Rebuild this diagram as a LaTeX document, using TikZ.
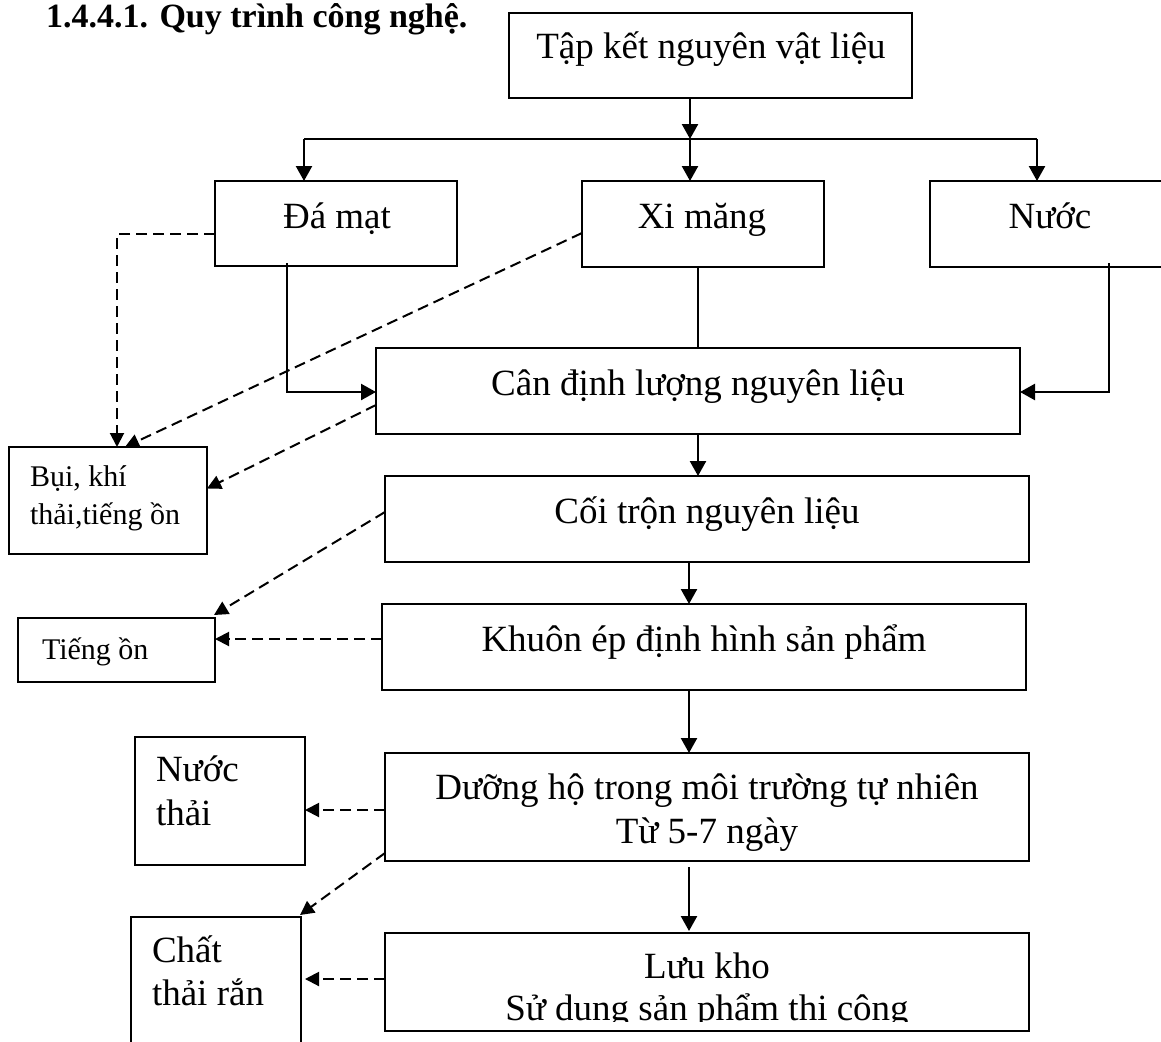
\documentclass[tikz,border=0pt]{standalone}
\usepackage{fontspec}
\setmainfont{Liberation Serif}
\usetikzlibrary{arrows.meta,calc}
\begin{document}
\begin{tikzpicture}[x=1pt,y=-1pt,
  box/.style={draw, line width=2pt, inner sep=0pt, outer sep=0pt},
  big/.style={inner sep=0pt, outer sep=0pt, anchor=base, font=\fontsize{37}{43}\selectfont},
  bigl/.style={inner sep=0pt, outer sep=0pt, anchor=base west, font=\fontsize{37}{43}\selectfont},
  small/.style={inner sep=0pt, outer sep=0pt, anchor=base west, font=\fontsize{30}{38}\selectfont},
  flow/.style={line width=2.4pt, -{Triangle[length=15pt,width=16pt]}},
  plain/.style={line width=2.4pt},
  waste/.style={line width=2pt, dash pattern=on 11pt off 6pt, -{Triangle[length=14pt,width=14pt]}}
]
\useasboundingbox (0,0) rectangle (1161,1041);
\clip (0,0) rectangle (1161,1041);
\fill[white] (0,0) rectangle (1161,1041);

% title
\node[inner sep=0pt, anchor=base west, font=\fontsize{34}{38}\selectfont\bfseries] (title) at (46,28) {1.4.4.1. Quy trình công nghệ.};

% boxes
\node[box, minimum width=403pt, minimum height=85pt] (tap) at (710.5,55.5) {};
\node[big] (tapT) at (711,59) {Tập kết nguyên vật liệu};

\node[box, minimum width=242pt, minimum height=85pt] (dam) at (336,223.5) {};
\node[big] (damT) at (337,228) {Đá mạt};

\node[box, minimum width=242pt, minimum height=86pt] (xim) at (703,224) {};
\node[big] (ximT) at (702,228) {Xi măng};

\node[box, minimum width=270pt, minimum height=86pt] (nuoc) at (1065,224) {};
\node[big] (nuocT) at (1050,228) {Nước};

\node[box, minimum width=644pt, minimum height=86pt] (can) at (698,391) {};
\node[big] (canT) at (698,395) {Cân định lượng nguyên liệu};

\node[box, minimum width=644pt, minimum height=86pt] (coi) at (707,519) {};
\node[big] (coiT) at (707,523) {Cối trộn nguyên liệu};

\node[box, minimum width=644pt, minimum height=86pt] (khuon) at (704,647) {};
\node[big] (khuonT) at (704,651) {Khuôn ép định hình sản phẩm};

\node[box, minimum width=644pt, minimum height=108pt] (duong) at (707,807) {};
\node[big] (duongT1) at (707,799) {Dưỡng hộ trong môi trường tự nhiên};
\node[big] (duongT2) at (707,843) {Từ 5-7 ngày};

\node[box, minimum width=644pt, minimum height=98pt] (luu) at (707,982) {};
\node[big] (luuT1) at (707,978) {Lưu kho};
\begin{scope}
  \clip (390,990) rectangle (1025,1021);
  \node[big] (luuT2) at (707,1020) {Sử dụng sản phẩm thi công};
\end{scope}

\node[box, minimum width=198pt, minimum height=107pt] (bui) at (108,500.5) {};
\node[small] (buiT1) at (30,486) {Bụi, khí};
\node[small] (buiT2) at (30,524) {thải,tiếng ồn};

\node[box, minimum width=197pt, minimum height=64pt] (tieng) at (116.5,650) {};
\node[small] (tiengT) at (42,659) {Tiếng ồn};

\node[box, minimum width=170pt, minimum height=128pt] (nthai) at (220,801) {};
\node[bigl] (nthaiT1) at (156,781) {Nước};
\node[bigl] (nthaiT2) at (156,825) {thải};

\node[box, minimum width=170pt, minimum height=143pt] (chat) at (216,988.5) {};
\node[bigl] (chatT1) at (152,962) {Chất};
\node[bigl] (chatT2) at (152,1005) {thải rắn};

% coordinates for connectors
\coordinate (jc) at (690,139);
\coordinate (jl) at (304,139);
\coordinate (jr) at (1037,139);
\coordinate (dl) at (287,392);
\coordinate (xc) at (698,300);
\coordinate (nr) at (1109,392);
\coordinate (c1) at (698,450);
\coordinate (c2) at (689,600);
\coordinate (ba) at (117,234);
\coordinate (e1) at (300,639);
\coordinate (f1) at (340,810);
\coordinate (h1) at (340,979);

% solid flow
\draw[flow] (tap.south -| jc) -- (jc);
\draw[plain] (jl) -- (jr);
\draw[flow] (jl) -- (jl |- dam.north);
\draw[flow] (jc) -- (jc |- xim.north);
\draw[flow] (jr) -- (jr |- nuoc.north);
\draw[flow] ($(dl |- dam.south)+(0,-3)$) -- (dl) -- (dl -| can.west);
\draw[plain] (xc |- xim.south) -- (xc |- can.north);
\draw[flow] ($(nr |- nuoc.south)+(0,-4)$) -- (nr) -- (nr -| can.east);
\draw[flow] (c1 |- can.south) -- (c1 |- coi.north);
\draw[flow] (c2 |- coi.south) -- (c2 |- khuon.north);
\draw[flow] (c2 |- khuon.south) -- (c2 |- duong.north);
\draw[flow] ($(c2 |- duong.south)+(0,6)$) -- ($(c2 |- luu.north)+(0,-2)$);

% waste (dashed)
\draw[waste] (dam.west |- ba) -- (ba) -- (ba |- bui.north);
\draw[waste] ($(xim.west)+(0,9)$) -- ($(bui.north)+(17,0)$);
\draw[waste] ($(can.west)+(0,14)$) -- ($(bui.east)+(0,-12)$);
\draw[waste] ($(coi.west)+(0,-7)$) -- ($(tieng.north east)+(-1,-3)$);
\draw[waste] (khuon.west |- e1) -- (tieng.east |- e1);
\draw[waste] (duong.west |- f1) -- (nthai.east |- f1);
\draw[waste] ($(duong.south west)+(0,-8)$) -- ($(chat.north east)+(-1,-2)$);
\draw[waste] (luu.west |- h1) -- ($(chat.east |- h1)+(4,0)$);
\end{tikzpicture}
\end{document}
